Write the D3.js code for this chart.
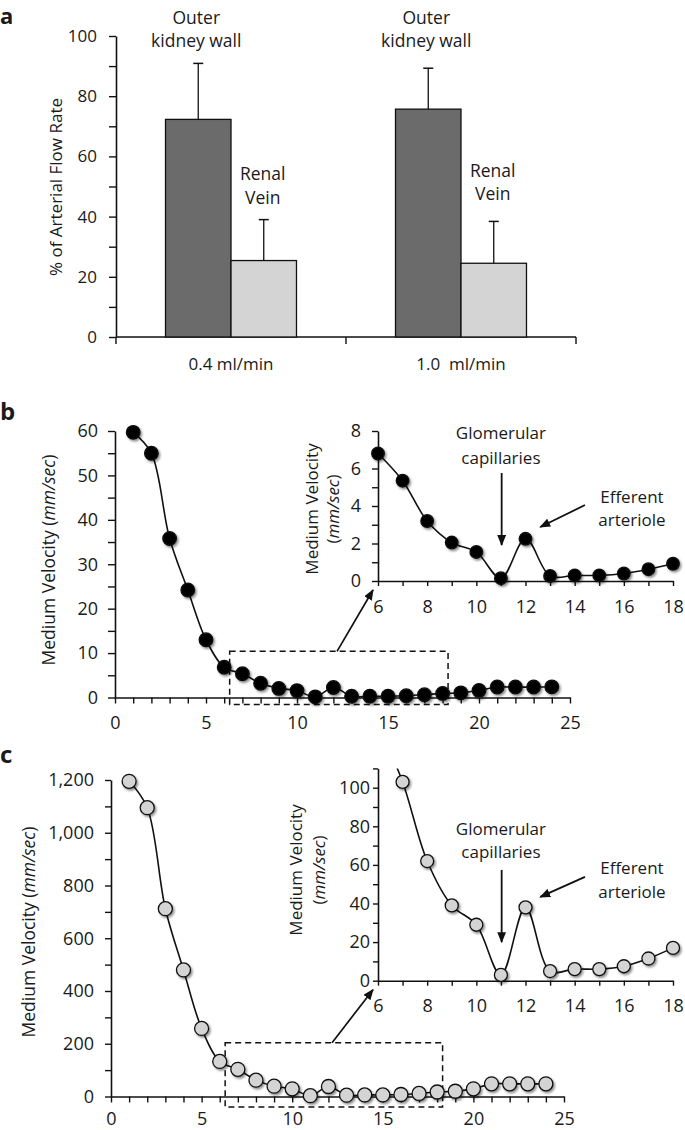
<!DOCTYPE html>
<html><head><meta charset="utf-8">
<script src="https://cdn.jsdelivr.net/npm/d3@7"></script>
<style>
body{margin:0;background:#fff}
text{font-family:"Open Sans",sans-serif;fill:#1a1a1a}
</style>
</head><body>
<svg id="chart" width="685" height="1130"></svg>
<script>
// ---------- DATA ----------
// Panel a
const groups = ["0.4 ml/min", "1.0  ml/min"];
const barSeries = ["Outer kidney wall", "Renal Vein"];
const barLabels = [["Outer", "kidney wall"], ["Renal", "Vein"]];
const barMeans = [[72.3, 25.4], [75.7, 24.5]];
const barSD = [[18.6, 13.6], [13.6, 13.9]];
const aYTicks = [0, 20, 40, 60, 80, 100];

// Panel b (segment index 1..24)
const segments = d3.range(1, 25);
const bVelocity = [59.7, 55.0, 35.8, 24.2, 13.0, 6.8, 5.35, 3.2, 2.05, 1.55, 0.15, 2.25,
                   0.27, 0.3, 0.3, 0.4, 0.63, 0.92, 1.05, 1.6, 2.35, 2.35, 2.35, 2.4];
// Panel c
const cVelocity = [1195, 1095, 712, 480, 258, 133, 103, 62, 39, 29, 3, 38,
                   5, 6, 6, 7.5, 11.5, 17, 20, 29, 48, 48, 48, 48];

const mainXTicks = [0, 5, 10, 15, 20, 25];
const bYTicks = [0, 10, 20, 30, 40, 50, 60];
const cYTicks = [0, 200, 400, 600, 800, 1000, 1200];
const insetXTicks = [6, 8, 10, 12, 14, 16, 18];
const bInsetYTicks = [0, 2, 4, 6, 8];
const cInsetYTicks = [0, 20, 40, 60, 80, 100];
const zoomRange = [6.3, 18.3];

// ---------- SETUP ----------
const svg = d3.select("#chart");
const defs = svg.append("defs");
defs.append("filter").attr("id", "sh").attr("x", "-50%").attr("y", "-50%")
  .attr("width", "200%").attr("height", "200%")
  .append("feDropShadow").attr("dx", 1.5).attr("dy", 1.8).attr("stdDeviation", 1.1)
  .attr("flood-color", "#000").attr("flood-opacity", 0.45);
defs.append("marker").attr("id", "arr").attr("viewBox", "0 0 10 8")
  .attr("refX", 9).attr("refY", 4).attr("markerWidth", 11).attr("markerHeight", 9)
  .attr("markerUnits", "userSpaceOnUse").attr("orient", "auto")
  .append("path").attr("d", "M0,0L10,4L0,8Z").attr("fill", "#111");

function styleAxis(g, fs) {
  g.selectAll("path.domain").attr("stroke", "#111").attr("stroke-width", 1.6);
  g.selectAll(".tick line").attr("stroke", "#111").attr("stroke-width", 1.4);
  g.selectAll(".tick text").attr("font-family", "Open Sans").attr("font-size", fs).attr("fill", "#1a1a1a");
}
function yAxis(g, y, all, major, fmt, size, pad, fs) {
  g.call(d3.axisLeft(y).tickValues(all).tickSize(size).tickSizeOuter(0).tickPadding(pad)
    .tickFormat(d => major.includes(d) ? fmt(d) : ""));
  styleAxis(g, fs);
}
function xAxis(g, x, all, major, size, pad, fs) {
  g.call(d3.axisBottom(x).tickValues(all).tickSize(size).tickSizeOuter(0).tickPadding(pad)
    .tickFormat(d => major.includes(d) ? d : ""));
  styleAxis(g, fs);
}
function panelLetter(t, x, y, fs) {
  svg.append("text").attr("x", x).attr("y", y).attr("font-size", fs || 24).attr("font-weight", "bold")
    .attr("font-family", "Open Sans").text(t);
}
function rotLabel(lines, x, y, fs) {
  lines.forEach((ln, i) => {
    const t = svg.append("text").attr("transform", `translate(${x[i]},${y}) rotate(-90)`)
      .attr("text-anchor", "middle").attr("dominant-baseline", "central").attr("font-size", fs);
    ln.forEach(part => t.append("tspan").attr("font-style", part.i ? "italic" : "normal").text(part.t));
  });
}

// ---------- PANEL A ----------
panelLetter("a", 0, 24, 22);
const aY = d3.scaleLinear([0, 100], [337, 36]);
const aX = d3.scaleBand(groups, [116, 576]);
const aInner = d3.scaleBand([0, 1], [0, aX.bandwidth()]).paddingOuter(0.756);
const aFill = ["#6b6b6b", "#d4d4d4"];
yAxis(svg.append("g").attr("transform", "translate(116,0)"), aY, d3.range(0, 101, 10), aYTicks, d => d, 7, 12, 17);
// x axis
const axA = svg.append("g");
axA.append("line").attr("x1", aX.range()[0]).attr("x2", aX.range()[1]).attr("y1", aY(0)).attr("y2", aY(0))
  .attr("stroke", "#111").attr("stroke-width", 1.6);
const bounds = [aX(groups[0]), aX(groups[1]), aX(groups[1]) + aX.bandwidth()];
axA.selectAll("line.t").data(bounds).join("line").attr("class", "t")
  .attr("x1", d => d).attr("x2", d => d).attr("y1", aY(0)).attr("y2", aY(0) + 7)
  .attr("stroke", "#111").attr("stroke-width", 1.4);
axA.selectAll("text").data(groups).join("text")
  .attr("x", d => aX(d) + aX.bandwidth() / 2).attr("y", aY(0) + 33)
  .attr("text-anchor", "middle").attr("font-size", 17).style("white-space", "pre").text(d => d);

groups.forEach((gName, gi) => {
  const g = svg.append("g");
  [0, 1].forEach(si => {
    const x0 = aX(gName) + aInner(si), w = aInner.bandwidth(), cx = x0 + w / 2;
    const top = barMeans[gi][si] + barSD[gi][si];
    g.append("line").attr("x1", cx).attr("x2", cx).attr("y1", aY(barMeans[gi][si])).attr("y2", aY(top))
      .attr("stroke", "#111").attr("stroke-width", 1.3);
    g.append("line").attr("x1", cx - 5).attr("x2", cx + 5).attr("y1", aY(top)).attr("y2", aY(top))
      .attr("stroke", "#111").attr("stroke-width", 1.5);
    g.append("rect").attr("x", x0).attr("y", aY(barMeans[gi][si])).attr("width", w)
      .attr("height", aY(0) - aY(barMeans[gi][si])).attr("fill", aFill[si]).attr("stroke", "#111").attr("stroke-width", 1.3);
  });
});
// bar annotations (vertical centres)
const aLabelY = [[17, 40], [[173, 197], [170, 193]]];
groups.forEach((gName, gi) => {
  const cx0 = aX(gName) + aInner(0) + aInner.bandwidth() / 2;
  const cx1 = aX(gName) + aInner(1) + aInner.bandwidth() / 2;
  barLabels[0].forEach((t, k) => svg.append("text").attr("x", cx0 - 2).attr("y", aLabelY[0][k])
    .attr("text-anchor", "middle").attr("dominant-baseline", "central").attr("font-size", 17.5).text(t));
  barLabels[1].forEach((t, k) => svg.append("text").attr("x", cx1 - 1).attr("y", aLabelY[1][gi][k])
    .attr("text-anchor", "middle").attr("dominant-baseline", "central").attr("font-size", 17.5).text(t));
});
rotLabel([[{t: "% of Arterial Flow Rate"}]], [55], 187, 17);

// ---------- LINE PANELS ----------
const curve = d3.curveCatmullRom.alpha(0.5);
function linePanel(o) {
  const {X, Y, vals, fill, r, clipId} = o;
  const pts = segments.map((s, i) => [s, vals[i]]).filter(o.filter || (() => true));
  const g = svg.append("g");
  if (clipId) {
    defs.append("clipPath").attr("id", clipId).append("rect")
      .attr("x", X.range()[0] - 20).attr("y", Y.range()[1]).attr("width", X.range()[1] - X.range()[0] + 40)
      .attr("height", Y.range()[0] - Y.range()[1] + 20);
    g.attr("clip-path", `url(#${clipId})`);
  }
  g.append("path").datum(pts).attr("fill", "none").attr("stroke", "#111").attr("stroke-width", 1.6)
    .attr("d", d3.line().x(d => X(d[0])).y(d => Y(d[1])).curve(curve));
  g.selectAll("circle").data(pts.filter(d => d[1] <= Y.domain()[1])).join("circle")
    .attr("cx", d => X(d[0])).attr("cy", d => Y(d[1])).attr("r", r)
    .attr("fill", fill).attr("stroke", "#111").attr("stroke-width", 1.3).attr("filter", "url(#sh)");
}

function zoomBox(X, Y, yLo, yHi, insetX, insetY) {
  svg.append("rect").attr("x", X(zoomRange[0])).attr("y", Y(yHi))
    .attr("width", X(zoomRange[1]) - X(zoomRange[0])).attr("height", Y(yLo) - Y(yHi))
    .attr("fill", "none").attr("stroke", "#111").attr("stroke-width", 1.5).attr("stroke-dasharray", "6,4");
  svg.append("line").attr("x1", X(12.2)).attr("y1", Y(yHi))
    .attr("x2", insetX.range()[0] - 5).attr("y2", insetY.range()[0] + 9)
    .attr("stroke", "#111").attr("stroke-width", 1.7).attr("marker-end", "url(#arr)");
}

function annotations(X, Y, p) {
  const t = (x, y, s) => svg.append("text").attr("x", X(x)).attr("y", Y(y)).attr("text-anchor", "middle")
    .attr("dominant-baseline", "central").attr("font-size", 17).text(s);
  t(11, p.g1, "Glomerular"); t(11, p.g2, "capillaries");
  t(16.33, p.e1, "Efferent"); t(16.33, p.e2, "arteriole");
  const a = (x1, y1, x2, y2) => svg.append("line").attr("x1", X(x1)).attr("y1", Y(y1)).attr("x2", X(x2)).attr("y2", Y(y2))
    .attr("stroke", "#111").attr("stroke-width", 1.8).attr("marker-end", "url(#arr)");
  a(11.03, p.va, 11.03, p.vb);
  a(14.42, p.ea, 12.6, p.eb);
}

// ---------- PANEL B ----------
panelLetter("b", 0, 420);
const bX = d3.scaleLinear([0, 25], [115, 570]);
const bY = d3.scaleLinear([0, 60], [697.5, 431]);
zoomBox(bX, bY, -1.6, 10.4, d3.scaleLinear([6, 18], [378, 673]), d3.scaleLinear([0, 8], [581, 431]));
yAxis(svg.append("g").attr("transform", `translate(${bX(0)},0)`), bY, d3.range(0, 61, 5), bYTicks, d => d, 7, 10, 18);
xAxis(svg.append("g").attr("transform", `translate(0,${bY(0)})`), bX, d3.range(0, 26), mainXTicks, 6, 13, 18);
linePanel({X: bX, Y: bY, vals: bVelocity, fill: "#000", r: 6.8});
rotLabel([[{t: "Medium Velocity ("}, {t: "mm/sec", i: true}, {t: ")"}]], [48], 560, 17.5);

const biX = d3.scaleLinear([6, 18], [378, 673]);
const biY = d3.scaleLinear([0, 8], [581, 431]);
yAxis(svg.append("g").attr("transform", `translate(${biX(6)},0)`), biY, d3.range(0, 9), bInsetYTicks, d => d, 6, 11, 18);
xAxis(svg.append("g").attr("transform", `translate(0,${biY(0)})`), biX, d3.range(6, 19), insetXTicks, 5, 14, 18);
linePanel({X: biX, Y: biY, vals: bVelocity, fill: "#000", r: 6.3, filter: d => d[0] >= 6 && d[0] <= 18});
rotLabel([[{t: "Medium Velocity"}], [{t: "("}, {t: "mm/sec", i: true}, {t: ")"}]], [311, 332], 509, 17);
annotations(biX, biY, {g1: 7.9, g2: 6.6, e1: 4.53, e2: 3.3, va: 5.76, vb: 1.92, ea: 4.05, eb: 2.88});

// ---------- PANEL C ----------
panelLetter("c", 0, 763);
const cX = d3.scaleLinear([0, 25], [111, 564]);
const cY = d3.scaleLinear([0, 1200], [1096.5, 780]);
zoomBox(cX, cY, -40, 204, d3.scaleLinear([6, 18], [378, 673]), d3.scaleLinear([0, 110], [980.7, 768.4]));
yAxis(svg.append("g").attr("transform", `translate(${cX(0)},0)`), cY, d3.range(0, 1201, 100), cYTicks, d3.format(","), 6, 11, 18);
xAxis(svg.append("g").attr("transform", `translate(0,${cY(0)})`), cX, d3.range(0, 26), mainXTicks, 6, 10, 18);
linePanel({X: cX, Y: cY, vals: cVelocity, fill: "#d4d4d4", r: 7});
rotLabel([[{t: "Medium Velocity ("}, {t: "mm/sec", i: true}, {t: ")"}]], [28], 932, 17.5);

const ciX = d3.scaleLinear([6, 18], [378, 673]);
const ciY = d3.scaleLinear([0, 110], [980.7, 768.4]);
yAxis(svg.append("g").attr("transform", `translate(${ciX(6)},0)`), ciY, d3.range(0, 111, 10), cInsetYTicks, d => d, 5, 3, 18);
xAxis(svg.append("g").attr("transform", `translate(0,${ciY(0)})`), ciX, d3.range(6, 19), insetXTicks, 5, 14, 18);
linePanel({X: ciX, Y: ciY, vals: cVelocity, fill: "#d4d4d4", r: 6.5, filter: d => d[0] >= 6 && d[0] <= 18, clipId: "cclip"});
rotLabel([[{t: "Medium Velocity"}], [{t: "("}, {t: "mm/sec", i: true}, {t: ")"}]], [295, 318], 870, 17);
annotations(ciX, ciY, {g1: 79, g2: 66.7, e1: 58.4, e2: 46, va: 57.4, vb: 20, ea: 53.8, eb: 43.4});
</script>
</body></html>
